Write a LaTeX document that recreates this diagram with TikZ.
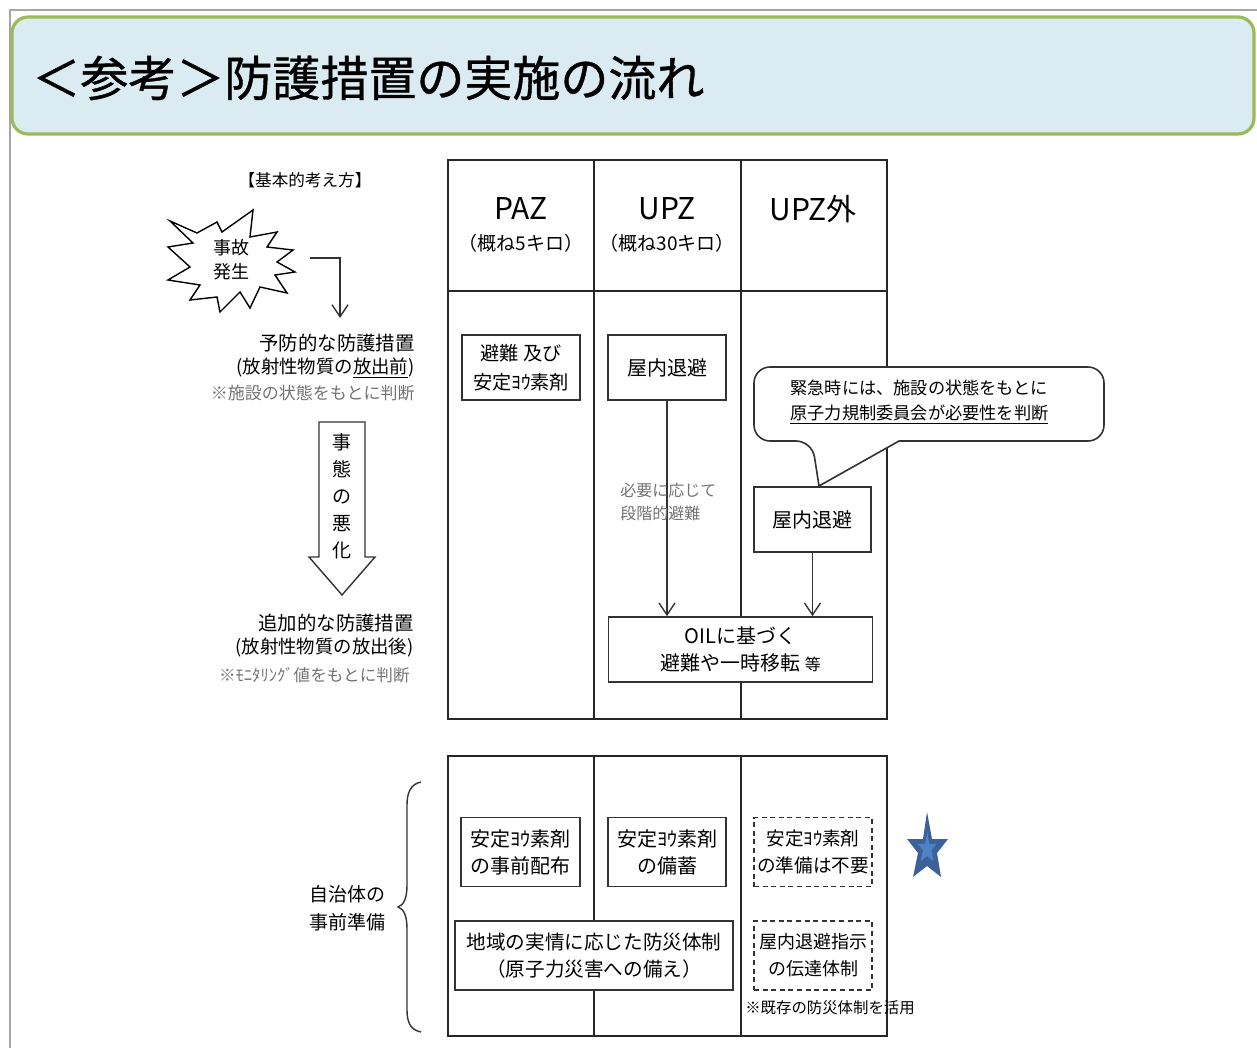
\documentclass[tikz,border=0pt]{standalone}
\usepackage{fontspec}
\setmainfont{Noto Sans CJK JP}
\newfontfamily\titlefont{Noto Sans CJK JP}[FakeBold=0.8]
\usetikzlibrary{arrows.meta}
\definecolor{titlefill}{HTML}{DAEBF2}
\definecolor{titleline}{HTML}{9BBB59}
\definecolor{stardark}{HTML}{3C6198}
\definecolor{starlight}{HTML}{4F82C4}
\definecolor{framegray}{HTML}{A6A6A6}
\newcommand{\myfs}[2]{\fontsize{#1}{#2}\selectfont}
\begin{document}
\begin{tikzpicture}[x=0.5pt,y=-0.5pt,
  tbl/.style={line width=0.8pt, draw=black!85},
  bx/.style={draw=black!80, fill=white, line width=0.8pt, align=center, inner sep=0pt},
  dbx/.style={bx, dash pattern=on 2.5pt off 1.8pt},
  arr/.style={-{Straight Barb[length=6pt,width=8pt]}, line width=0.7pt, draw=black!80},
  txt/.style={inner sep=0pt, align=center},
  graytxt/.style={inner sep=0pt, text=black!55}]
\useasboundingbox (0,0) rectangle (1257,1048);
% frame
\draw[framegray, line width=1.2pt] (10,1048) -- (10,10) -- (1257,10);
% title
\draw[rounded corners=8pt, fill=titlefill, draw=titleline, line width=1.6pt] (12,17) rectangle (1254,134);
\node[inner sep=0pt, anchor=west, font=\titlefont\myfs{24}{28}] (title) at (32,78) {＜参考＞防護措置の実施の流れ};

% ===== left column =====
\node[txt, font=\myfs{8.3}{10}] (kihon) at (305,180) {【基本的考え方】};
\draw[line width=0.7pt, fill=white] (170,221) -- (197,233) -- (217,222) -- (222,232) -- (253,210) -- (250,237) -- (277,232) -- (267,247) -- (293,250) -- (277,262) -- (295,272) -- (275,275) -- (287,293) -- (260,287) -- (250,308) -- (240,292) -- (220,312) -- (217,297) -- (190,300) -- (200,285) -- (168,280) -- (190,267) -- (168,247) -- (193,243) -- cycle;
\node[txt, font=\myfs{9}{12}] (jiko) at (231,260) {事故\\発生};
\coordinate (bstart) at (310,258);
\coordinate (bend) at (340,318);
\draw[arr] (bstart) -| (bend);

\node[inner sep=0pt, anchor=east, font=\myfs{9.7}{12}] (yobo1) at (415,343) {予防的な防護措置};
\node[inner sep=0pt, anchor=east, font=\myfs{9.2}{12}] (yobo2) at (415,368) {(放射性物質の\underline{放出前})};
\node[graytxt, anchor=east, font=\myfs{8.5}{11}] (yobo3) at (415,393) {※施設の状態をもとに判断};

\draw[line width=0.7pt, draw=black!80, fill=white] (319,422) -- (365,422) -- (365,557) -- (375,557) -- (342,595) -- (309,557) -- (319,557) -- cycle;
\node[txt, font=\myfs{9.5}{13.5}] (akka) at (342,496) {事\\態\\の\\悪\\化};

\node[inner sep=0pt, anchor=east, font=\myfs{9.7}{12}] (tsuika1) at (414,623) {追加的な防護措置};
\node[inner sep=0pt, anchor=east, font=\myfs{9.2}{12}] (tsuika2) at (414,648) {(放射性物質の放出後)};
\node[graytxt, anchor=east, font=\myfs{8.3}{11}] (tsuika3) at (410,675) {※ﾓﾆﾀﾘﾝｸﾞ値をもとに判断};

% ===== upper table =====
\draw[tbl] (448,160) rectangle (887,719);
\draw[tbl] (594,160) -- (594,719);
\draw[tbl] (741,160) -- (741,719);
\draw[tbl] (448,291) -- (887,291);
\node[txt, font=\myfs{15}{18}] (hpaz) at (521,209) {PAZ};
\node[txt, font=\myfs{9.5}{12}] (hpazk) at (521,243) {（概ね5キロ）};
\node[txt, font=\myfs{15}{18}] (hupz) at (667,209) {UPZ};
\node[txt, font=\myfs{9.5}{12}] (hupzk) at (667,243) {（概ね30キロ）};
\node[txt, font=\myfs{15}{18}] (hout) at (813,209) {UPZ外};

\node[bx, minimum width=59pt, minimum height=32.5pt, font=\myfs{9.6}{14.5}] (paz1) at (521,367.5) {避難 及び\\安定ﾖｳ素剤};
\node[bx, minimum width=59pt, minimum height=32.5pt, font=\myfs{10}{13}] (upz1) at (667,367.5) {屋内退避};
\node[bx, minimum width=58.5pt, minimum height=32.5pt, font=\myfs{10}{13}] (out1) at (812.5,519.5) {屋内退避};
\node[bx, minimum width=132pt, minimum height=32.5pt, font=\myfs{10}{13.5}] (oil) at (740.5,649.5) {OILに基づく\\避難や一時移転 {\myfs{8}{10}等}};

\draw[arr] (upz1.south) -- (upz1.south |- oil.north);
\draw[arr] (out1.south) -- (out1.south |- oil.north);
\node[graytxt, anchor=west, align=left, font=\myfs{8}{11.5}] (dankai) at (620,502) {必要に応じて\\段階的避難};

% callout
\draw[line width=0.8pt, draw=black!80, fill=white, rounded corners=8pt] (899,441) -- (1104,441) -- (1104,367) -- (754,367) -- (754,441) -- (812,441) [sharp corners] -- (819,486) -- cycle;
\node[inner sep=0pt, anchor=west, align=left, font=\myfs{8.6}{12.5}] (callt) at (790,402) {緊急時には、施設の状態をもとに\\\underline{原子力規制委員会が必要性を判断}};

% ===== lower table =====
\draw[tbl] (448,756) rectangle (887,1036);
\draw[tbl] (594,756) -- (594,1036);
\draw[tbl] (741,756) -- (741,1036);
\node[bx, minimum width=59.5pt, minimum height=34.5pt, font=\myfs{10}{13.5}] (l1) at (520.5,852) {安定ﾖｳ素剤\\の事前配布};
\node[bx, minimum width=59pt, minimum height=34.5pt, font=\myfs{10}{13.5}] (l2) at (667,852) {安定ﾖｳ素剤\\の備蓄};
\node[dbx, minimum width=59pt, minimum height=34.5pt, font=\myfs{9.3}{13.5}] (l3) at (813,852) {安定ﾖｳ素剤\\の準備は不要};
\node[bx, minimum width=139pt, minimum height=34.5pt, font=\myfs{9.8}{13.5}] (l4) at (594,955.5) {地域の実情に応じた防災体制\\（原子力災害への備え）};
\node[dbx, minimum width=59pt, minimum height=34.5pt, font=\myfs{9}{13.5}] (l5) at (813,955.5) {屋内退避指示\\の伝達体制};
\node[inner sep=0pt, font=\myfs{7.7}{10}] (kizon) at (830,1008) {※既存の防災体制を活用};

\draw[line width=0.7pt, draw=black!80] (421,782) .. controls (411,784) and (407,792) .. (407,805) -- (407,885) .. controls (407,898) and (404,905) .. (398,907) .. controls (404,909) and (407,916) .. (407,929) -- (407,1010) .. controls (407,1023) and (411,1030) .. (421,1032);
\node[txt, font=\myfs{9.5}{14}] (jichi) at (347,908) {自治体の\\事前準備};

% star
\fill[stardark] (927,812) -- (932,839) -- (948,839) -- (937,853) -- (941,877) -- (927,866) -- (913,877) -- (918,853) -- (907,839) -- (923,839) -- cycle;
\fill[starlight] (927,831.8) -- (929.25,843.95) -- (936.45,843.95) -- (931.5,850.25) -- (933.3,861.05) -- (927,856.1) -- (920.7,861.05) -- (922.95,850.25) -- (918,843.95) -- (925.2,843.95) -- cycle;
\end{tikzpicture}
\end{document}
